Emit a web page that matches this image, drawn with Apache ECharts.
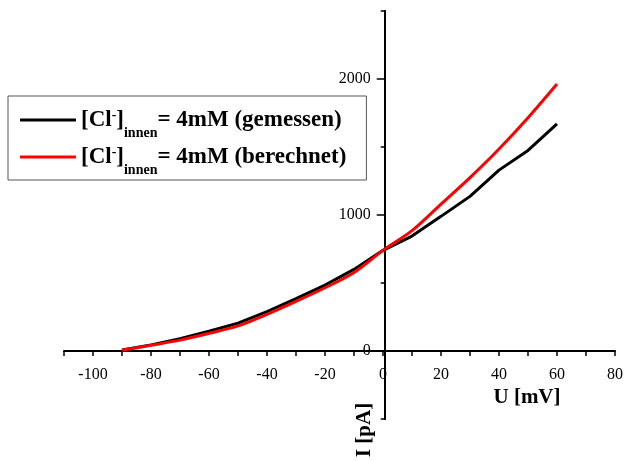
<!DOCTYPE html>
<html><head><meta charset="utf-8">
<script src="https://cdn.jsdelivr.net/npm/echarts@6/dist/echarts.min.js"></script>
<style>html,body{margin:0;padding:0;background:#fff}#c{width:626px;height:461px}</style>
</head><body><div id="c"></div>
<script>
const voltage = [-90, -80, -70, -60, -50, -40, -30, -20, -10, 0, 10, 20, 30, 40, 50, 60];
const measured = [8, 45, 90, 145, 205, 290, 385, 485, 600, 740, 845, 990, 1137, 1330, 1475, 1670];
const calculated = [5, 42, 80, 130, 185, 270, 365, 465, 578, 740, 885, 1080, 1275, 1485, 1715, 1963];
const seriesNames = ['gemessen', 'berechnet'];
const seriesColors = ['#000000', '#ff0000'];
const yLabelValues = [0, 1000, 2000];
const yMinorTicks = [-500, 500, 1500, 2500];
const xAxisTitle = 'U [mV]';
const yAxisTitle = 'I [pA]';

const FONT = "'Liberation Serif','Times New Roman',serif";
const W = 626, H = 461;
const G = {left: 64, right: 8, top: 11, bottom: 42};
const X_MIN = -110, X_MAX = 80, Y_MIN = -500, Y_MAX = 2500;
// axes cross at zero: shift them from the grid edges to the zero of the other axis
const gridW = W - G.left - G.right, gridH = H - G.top - G.bottom;
const xAxisOffset = -((0 - Y_MIN) / (Y_MAX - Y_MIN)) * gridH;
const yAxisOffset = -((0 - X_MIN) / (X_MAX - X_MIN)) * gridW;

const chart = echarts.init(document.getElementById('c'), null, {renderer: 'canvas'});

const axisLineStyle = {color: '#000', width: 2};
const labelStyle = {color: '#000', fontSize: 16, fontFamily: FONT};

const tok = {fontWeight: 'bold', fontFamily: FONT, color: '#000'};

chart.setOption({
  animation: false,
  backgroundColor: '#fff',
  grid: Object.assign({containLabel: false}, G),
  xAxis: {
    type: 'value', min: X_MIN, max: X_MAX, interval: 10, position: 'bottom', offset: xAxisOffset,
    axisLine: {onZero: false, lineStyle: axisLineStyle},
    axisTick: {length: 5, lineStyle: {color: '#000', width: 1.5}},
    axisLabel: Object.assign({
      margin: 16,
      formatter: v => (v % 20 === 0 ? String(v) : '')
    }, labelStyle),
    splitLine: {show: false}
  },
  yAxis: [
    {
      type: 'value', min: Y_MIN, max: Y_MAX, interval: 500, position: 'left', offset: yAxisOffset,
      axisLine: {show: true, onZero: false, lineStyle: axisLineStyle},
      axisTick: {show: true, length: 4, customValues: yMinorTicks, lineStyle: {color: '#000', width: 1.5}},
      axisLabel: {show: false},
      splitLine: {show: false}
    },
    {
      type: 'value', min: Y_MIN, max: Y_MAX, interval: 500, position: 'left', offset: yAxisOffset,
      axisLine: {show: true, onZero: false, lineStyle: axisLineStyle},
      axisTick: {show: true, length: 8, customValues: yLabelValues, lineStyle: {color: '#000', width: 1.5}},
      axisLabel: Object.assign({margin: 14, customValues: yLabelValues, formatter: v => String(v)}, labelStyle),
      splitLine: {show: false}
    }
  ],
  legend: {
    orient: 'vertical',
    left: 8, top: 96,
    icon: 'rect',
    itemWidth: 56, itemHeight: 3,
    itemGap: -3,
    padding: [4, 20, 3, 12],
    borderColor: '#555', borderWidth: 1,
    backgroundColor: '#fff',
    data: seriesNames,
    formatter: name => '{a|[Cl}{sup|-}{a|]}{sub|innen}{a|= 4mM (' + name + ')}',
    textStyle: {
      color: '#000',
      rich: {
        a: Object.assign({fontSize: 23, lineHeight: 24, padding: [8, 0, 8, 0]}, tok),
        sup: Object.assign({fontSize: 14, lineHeight: 14, padding: [8, 0, 18, 0]}, tok),
        sub: Object.assign({fontSize: 14, lineHeight: 14, padding: [26, 0, 0, 0]}, tok)
      }
    }
  },
  graphic: [
    {type: 'text', x: 527, y: 398, z: 100,
     style: {text: xAxisTitle, font: 'bold 21px ' + FONT, fill: '#000', align: 'center', verticalAlign: 'middle', textAlign: 'center', textVerticalAlign: 'middle'}},
    {type: 'text', x: 365, y: 430, rotation: Math.PI / 2, z: 100,
     style: {text: yAxisTitle, font: 'bold 21px ' + FONT, fill: '#000', align: 'center', verticalAlign: 'middle', textAlign: 'center', textVerticalAlign: 'middle'}}
  ],
  series: [
    {name: seriesNames[0], type: 'line', xAxisIndex: 0, yAxisIndex: 0,
     data: voltage.map((v, i) => [v, measured[i]]),
     symbol: 'none', showSymbol: false, color: seriesColors[0],
     lineStyle: {color: seriesColors[0], width: 3}},
    {name: seriesNames[1], type: 'line', xAxisIndex: 0, yAxisIndex: 0,
     data: voltage.map((v, i) => [v, calculated[i]]),
     symbol: 'none', showSymbol: false, smooth: 0.3, color: seriesColors[1],
     lineStyle: {color: seriesColors[1], width: 3}}
  ]
});
</script>
</body></html>
